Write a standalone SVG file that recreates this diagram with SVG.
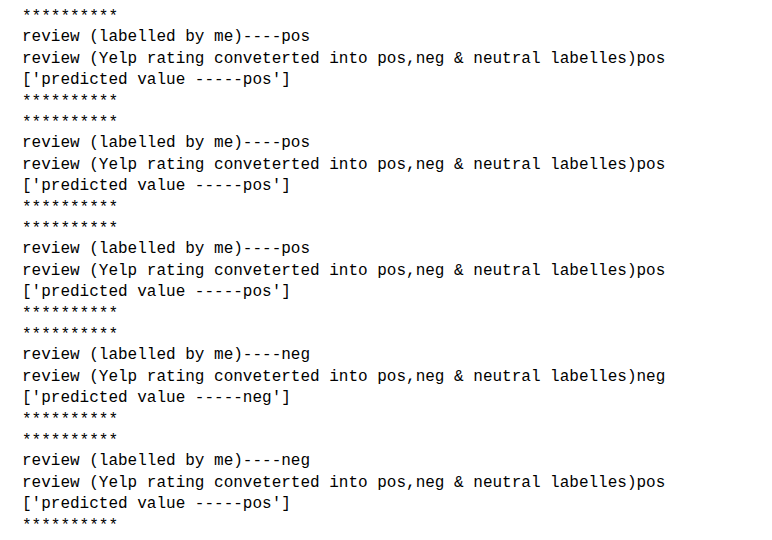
<svg xmlns="http://www.w3.org/2000/svg" width="772" height="540" viewBox="0 0 772 540">
<style>
text{font-family:"Liberation Mono","DejaVu Sans Mono",monospace;font-size:16px;fill:#000;white-space:pre}
</style>
<rect width="772" height="540" fill="#fff"/>
<g id="block1">
<text x="22" y="21">**********</text>
<text x="22" y="41">review (labelled by me)----pos</text>
<text x="22" y="63">review (Yelp rating conveterted into pos,neg &amp; neutral labelles)pos</text>
<text x="22" y="84">['predicted value -----pos']</text>
<text x="22" y="106">**********</text>
</g>
<g id="block2" transform="translate(0,106)">
<text x="22" y="21">**********</text>
<text x="22" y="41">review (labelled by me)----pos</text>
<text x="22" y="63">review (Yelp rating conveterted into pos,neg &amp; neutral labelles)pos</text>
<text x="22" y="84">['predicted value -----pos']</text>
<text x="22" y="106">**********</text>
</g>
<g id="block3" transform="translate(0,212)">
<text x="22" y="21">**********</text>
<text x="22" y="41">review (labelled by me)----pos</text>
<text x="22" y="63">review (Yelp rating conveterted into pos,neg &amp; neutral labelles)pos</text>
<text x="22" y="84">['predicted value -----pos']</text>
<text x="22" y="106">**********</text>
</g>
<g id="block4" transform="translate(0,318)">
<text x="22" y="21">**********</text>
<text x="22" y="41">review (labelled by me)----neg</text>
<text x="22" y="63">review (Yelp rating conveterted into pos,neg &amp; neutral labelles)neg</text>
<text x="22" y="84">['predicted value -----neg']</text>
<text x="22" y="106">**********</text>
</g>
<g id="block5" transform="translate(0,424)">
<text x="22" y="21">**********</text>
<text x="22" y="41">review (labelled by me)----neg</text>
<text x="22" y="63">review (Yelp rating conveterted into pos,neg &amp; neutral labelles)pos</text>
<text x="22" y="84">['predicted value -----pos']</text>
<text x="22" y="106">**********</text>
</g>
<g id="connectors"></g>
</svg>
